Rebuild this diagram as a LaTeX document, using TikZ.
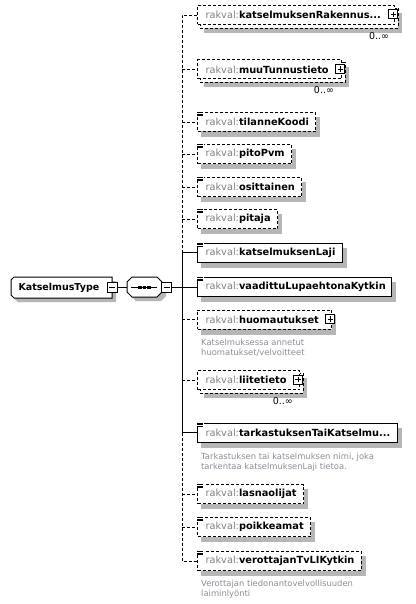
\documentclass[tikz,border=0pt]{standalone}
\usepackage{fontspec}
\setmainfont{DejaVu Sans}
\usetikzlibrary{backgrounds,calc}
\definecolor{shadowgray}{RGB}{182,182,182}
\definecolor{pfxgray}{RGB}{128,128,128}
\definecolor{notegray}{RGB}{140,140,152}
\newcommand\elfont{\fontsize{9.8}{12}\selectfont}
\newcommand\elt[2]{\hspace*{8pt}{\color{pfxgray}rakval:}\textbf{#2}\hspace*{#1pt}}
\newcommand\docicon[1]{%
  \fill[white] ($(#1.north west)+(-0.8,-0.8)$) rectangle ($(#1.north west)+(6.5,4)$);
  \foreach \dy in {0.4,2,3.6} \draw[line width=0.7pt] ($(#1.north west)+(0,\dy)$) -- +(5.5,0);
}
\newcommand\plusbox[2]{%
  \node[sqbox, minimum size=9pt] (#2) at ($(#1.east)+(-2,-0.5)$) {};
  \draw[line width=0.8pt] ($(#2.center)+(-2.6,0)$) -- ($(#2.center)+(2.6,0)$);
  \draw[line width=0.8pt] ($(#2.center)+(0,-2.6)$) -- ($(#2.center)+(0,2.6)$);
}
\begin{document}
\begin{tikzpicture}[x=1pt,y=-1pt,line width=1pt,
  elembox/.style={draw=black, fill=white, line width=1pt, minimum height=19pt, inner sep=0pt, anchor=west, font=\elfont, text=black},
  opt/.style={dash pattern=on 3pt off 2pt},
  mult/.style={font=\fontsize{9.5}{11}\selectfont, inner sep=0pt, text=black},
  note/.style={font=\fontsize{8.4}{10}\selectfont, text=notegray, inner sep=0pt, anchor=base west},
  sqbox/.style={draw=black, fill=white, line width=1pt, minimum size=10pt, inner sep=0pt}]
\useasboundingbox (0,0) rectangle (415,604);

% root type box
\draw[fill=white] (14,277) -- (112,277) -- (112,298) -- (14,298) -- (11,295) -- (11,280) -- cycle;
\node[inner sep=0pt, anchor=west, font=\fontsize{9.5}{11}\selectfont] (root) at (11,287.5) {\makebox[101pt][l]{\hspace{7pt}\textbf{KatselmusType}}};
\node[sqbox] (rootm) at (112,287) {};
\draw ($(rootm.center)+(-3,0)$) -- ($(rootm.center)+(3,0)$);

% sequence compositor
\draw[fill=white] (132,277) -- (157,277) -- (162,282) -- (162,292) -- (157,297) -- (132,297) -- (127,292) -- (127,282) -- cycle;
\node[minimum width=35pt, minimum height=20pt, inner sep=0pt] (seq) at (144.5,287) {};
\draw (131,287) -- (157,287);
\foreach \dx in {-4.5,0,4.5} \fill ($(seq.center)+(\dx,0)+(-1.7,-1.5)$) rectangle +(3.4,3);
\node[sqbox] (seqm) at (166.5,287) {};
\draw ($(seqm.center)+(-3,0)$) -- ($(seqm.center)+(3,0)$);
\coordinate (j) at (182,287);

% elements
\node[elembox,opt] (e1) at (197,15) {\elt{14}{katselmuksenRakennus...}};
\node[elembox,opt] (e2) at (197,69.5) {\elt{13}{muuTunnustieto}};
\node[elembox,opt] (e3) at (197,122) {\elt{7}{tilanneKoodi}};
\node[elembox,opt] (e4) at (197,154) {\elt{7}{pitoPvm}};
\node[elembox,opt] (e5) at (197,187) {\elt{7}{osittainen}};
\node[elembox,opt] (e6) at (197,219) {\elt{7}{pitaja}};
\node[elembox] (e7) at (197,252.5) {\elt{7}{katselmuksenLaji}};
\node[elembox] (e8) at (197,287) {\elt{6}{vaadittuLupaehtonaKytkin}};
\node[elembox,opt] (e9) at (197,319.5) {\elt{13}{huomautukset}};
\node[elembox,opt] (e10) at (197,380) {\elt{13}{liitetieto}};
\node[elembox] (e11) at (197,432.5) {\elt{7}{tarkastuksenTaiKatselmu...}};
\node[elembox,opt] (e12) at (197,494) {\elt{7}{lasnaolijat}};
\node[elembox,opt] (e13) at (197,527) {\elt{7}{poikkeamat}};
\node[elembox,opt] (e14) at (197,561) {\elt{7}{verottajanTvLIKytkin}};

\foreach \n in {e3,e4,e5,e6,e7,e8,e11,e12,e13,e14} {\docicon{\n}}
\plusbox{e1}{p1}
\plusbox{e2}{p2}
\plusbox{e9}{p9}
\plusbox{e10}{p10}

% shadows and repeated back boxes
\begin{pgfonlayer}{background}
\fill[white] (0,0) rectangle (415,604);
\fill[shadowgray] (15,281) -- (116,281) -- (116,302) -- (18,302) -- (15,299) -- cycle;
\fill[shadowgray] (136,281) -- (161,281) -- (166,286) -- (166,296) -- (161,301) -- (136,301) -- (131,296) -- (131,286) -- cycle;
\foreach \n in {e3,e4,e5,e6,e7,e8,e9,e11,e12,e13,e14}
  \fill[shadowgray] ($(\n.north west)+(4,5)$) rectangle ($(\n.south east)+(4,5)$);
\foreach \n in {e1,e2,e10} {
  \fill[shadowgray] ($(\n.north west)+(7,8)$) rectangle ($(\n.south east)+(7,8)$);
  \draw[opt,fill=white] ($(\n.north west)+(3,3)$) rectangle ($(\n.south east)+(3,3)$);
}
\end{pgfonlayer}

% connectors
\draw (rootm.east) -- (seq.west);
\draw (seqm.east) -- (j);
\draw[opt] (e1.west) -- (e1.west -| j) -- (e7.west -| j);
\draw (e7.west -| j) -- (e11.west -| j);
\draw[opt] (e11.west -| j) -- (e14.west -| j) -- (e14.west);
\foreach \n in {e2,e3,e4,e5,e6,e9,e10,e12,e13} \draw[opt] (\n.west -| j) -- (\n.west);
\foreach \n in {e7,e8,e11} \draw (\n.west -| j) -- (\n.west);

% multiplicities
\node[mult, anchor=north east] (m1) at ($(e1.south east)+(-6,7)$) {0..∞};
\node[mult, anchor=north east] (m2) at ($(e2.south east)+(-8,7)$) {0..∞};
\node[mult, anchor=north east] (m10) at ($(e10.south east)+(-7,7)$) {0..∞};

% annotations
\node[note] (n9a) at (201,345) {Katselmuksessa annetut};
\node[note] (n9b) at (201,355) {huomatukset/velvoitteet};
\node[note] (n11a) at (201,459) {Tarkastuksen tai katselmuksen nimi, joka};
\node[note] (n11b) at (201,469.5) {tarkentaa katselmuksenLaji tietoa.};
\node[note] (n14a) at (201,586) {Verottajan tiedonantovelvollisuuden};
\node[note] (n14b) at (201,596.5) {laiminlyönti};
\end{tikzpicture}
\end{document}
